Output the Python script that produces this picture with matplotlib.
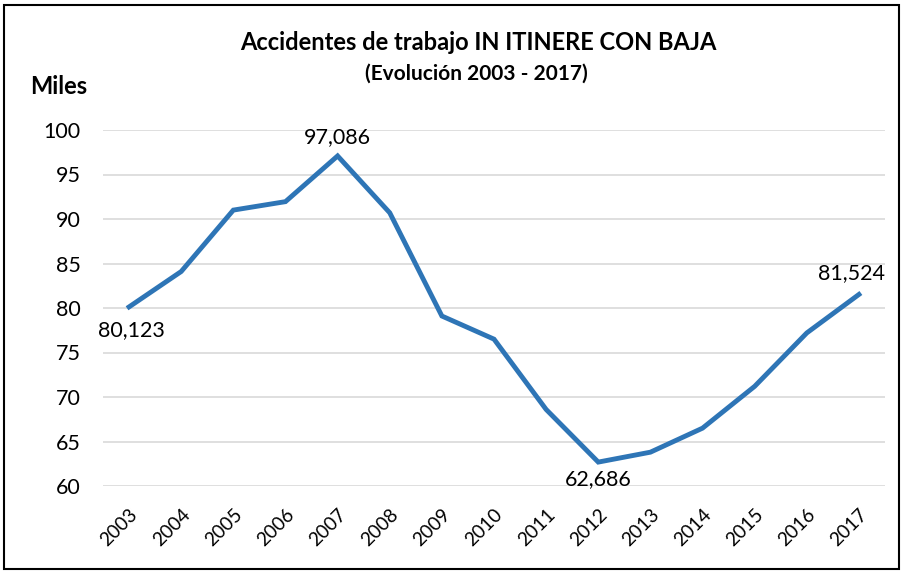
import matplotlib
matplotlib.use("Agg")
import matplotlib.pyplot as plt
from matplotlib.patches import Rectangle

years = ["2003", "2004", "2005", "2006", "2007", "2008", "2009", "2010",
         "2011", "2012", "2013", "2014", "2015", "2016", "2017"]
values = [80.123, 84.1, 91.0, 91.95, 97.086, 90.7, 79.1, 76.5,
          68.6, 62.686, 63.8, 66.5, 71.2, 77.2, 81.524]
labelled = {0: "80,123", 4: "97,086", 9: "62,686", 14: "81,524"}
yticks = [60, 65, 70, 75, 80, 85, 90, 95, 100]

plt.rcParams['font.family'] = ['Lato', 'DejaVu Sans']

W, H = 904, 572
fig = plt.figure(figsize=(W / 100, H / 100), dpi=100)
ax = fig.add_axes([103 / W, 1 - 486 / H, (885 - 103) / W, (486 - 130) / H])

x = list(range(len(years)))
ax.plot(x, values, color="#2E75B6", lw=3.5, solid_joinstyle="miter", zorder=3)
ax.set_xlim(-0.5, len(years) - 0.5)
ax.set_ylim(60, 100)
ax.set_yticks(yticks)
ax.set_yticklabels([str(t) for t in yticks], fontsize=15.5)
ax.set_xticks(x)
ax.set_xticklabels(years, rotation=45, fontsize=13.8, ha="right", rotation_mode="anchor")
ax.tick_params(axis="y", length=0, pad=16)
ax.tick_params(axis="x", length=0, pad=14)
for s in ax.spines.values():
    s.set_visible(False)
ax.grid(axis="y", color="#D9D9D9", lw=1.2)
ax.set_axisbelow(True)

offsets = {0: (0.05, -1.5, "top"), 4: (0, 1.0, "bottom"), 9: (0.0, -0.8, "top"), 14: (-0.15, 1.3, "bottom")}
for i, txt in labelled.items():
    dx, dy, va = offsets[i]
    ax.text(i + dx, values[i] + dy, txt, ha="center", va=va, fontsize=15.5, zorder=4)

fig.text(478 / W, 1 - 42 / H, "Accidentes de trabajo IN ITINERE CON BAJA",
         ha="center", va="center", fontsize=17, fontweight="bold")
fig.text(476 / W, 1 - 74 / H, "(Evolución 2003 - 2017)",
         ha="center", va="center", fontsize=15, fontweight="bold")
fig.text(30 / W, 1 - 87 / H, "Miles", ha="left", va="center", fontsize=17, fontweight="bold")

fig.patches.append(Rectangle((4 / W, 3 / H), (W - 9) / W, (H - 8) / H,
                             transform=fig.transFigure, fill=False,
                             edgecolor="black", lw=1.5))

fig.savefig("out.png", dpi=100)
